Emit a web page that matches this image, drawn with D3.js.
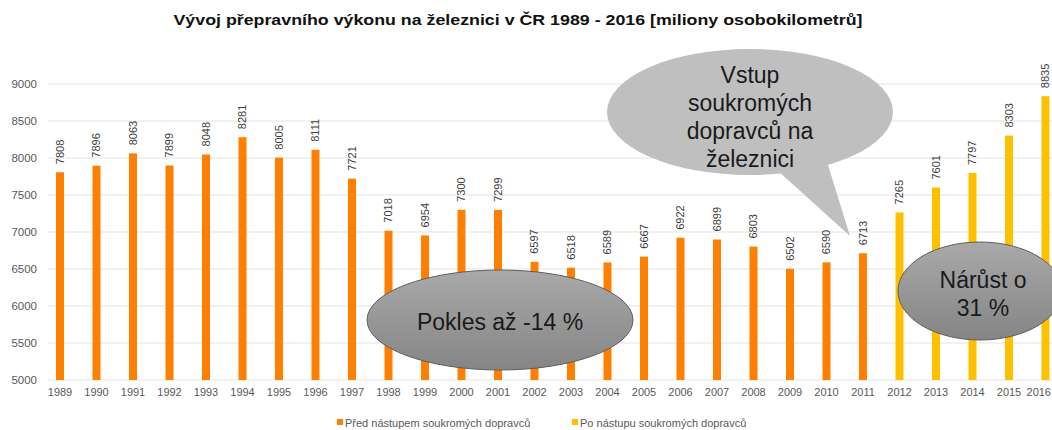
<!DOCTYPE html>
<html>
<head>
<meta charset="utf-8">
<script src="https://cdn.jsdelivr.net/npm/d3@7"></script>
<style>
  body { margin: 0; background: #fff; }
  svg { display: block; font-family: "Liberation Sans", Arial, sans-serif; }
</style>
</head>
<body>
<div id="canvas"></div>
<script>
"use strict";

// Data
let years = ["1989","1990","1991","1992","1993","1994","1995","1996","1997","1998","1999","2000","2001","2002",
  "2003","2004","2005","2006","2007","2008","2009","2010","2011","2012","2013","2014","2015","2016"];
let values = [7808,7896,8063,7899,8048,8281,8005,8111,7721,7018,6954,7300,7299,6597,
  6518,6589,6667,6922,6899,6803,6502,6590,6713,7265,7601,7797,8303,8835];
let firstAfterYear = "2012"; // from here on: after private carriers entered
let seriesNames = ["Před nástupem soukromých dopravců", "Po nástupu soukromých dopravců"];
let yTicks = [5000,5500,6000,6500,7000,7500,8000,8500,9000];

let svgWidth = 1052;
let svgHeight = 430;

let svg = d3.select("#canvas")
  .append("svg")
  .attr("width", svgWidth)
  .attr("height", svgHeight);

// Scales
let xScale = d3.scaleBand().domain(years).range([41.75, 1063.75]).padding(0);
let yScale = d3.scaleLinear().domain([5000, 9000]).range([380, 84]);
let colorOf = function(year) { return year >= firstAfterYear ? "#ffc000" : "#ff8000"; };
let barW = 8;

// Title
svg.append("text")
  .attr("x", 518)
  .attr("y", 25)
  .attr("text-anchor", "middle")
  .style("font-weight", "700")
  .style("font-size", "15px")
  .attr("fill", "#111")
  .attr("textLength", 689)
  .attr("lengthAdjust", "spacingAndGlyphs")
  .text("Vývoj přepravního výkonu na železnici v ČR 1989 - 2016 [miliony osobokilometrů]");

// Gridlines
svg.append("g").selectAll("line")
  .data(yTicks)
  .enter()
  .append("line")
  .attr("x1", 48).attr("x2", svgWidth)
  .attr("y1", function(d){ return yScale(d); })
  .attr("y2", function(d){ return yScale(d); })
  .attr("stroke", "#e3e3e3")
  .attr("stroke-width", 1.2);

// Y axis
let yAxis = svg.append("g")
  .attr("transform", "translate(42,0)")
  .call(d3.axisLeft(yScale).tickValues(yTicks).tickSize(0).tickPadding(5).tickFormat(d3.format("d")));
yAxis.select(".domain").remove();
yAxis.selectAll("text")
  .style("font-size", "11.5px")
  .style("font-family", "'Liberation Sans', Arial, sans-serif")
  .attr("fill", "#595959");

// X axis
let xAxis = svg.append("g")
  .attr("transform", "translate(0,384)")
  .call(d3.axisBottom(xScale).tickSize(0).tickPadding(4));
xAxis.select(".domain").remove();
xAxis.selectAll("text")
  .style("font-size", "11px")
  .style("font-family", "'Liberation Sans', Arial, sans-serif")
  .attr("fill", "#595959");
// last label would run past the right edge; pin it to the edge
xAxis.selectAll(".tick")
  .filter(function(d){ return d == years[years.length - 1]; })
  .select("text")
  .attr("text-anchor", "end")
  .attr("x", svgWidth - 1 - (xScale(years[years.length - 1]) + xScale.bandwidth()/2));

// Bars
svg.append("g").selectAll("rect")
  .data(years)
  .enter()
  .append("rect")
  .attr("x", function(d){ return xScale(d) + xScale.bandwidth()/2 - barW/2; })
  .attr("y", function(d, i){ return yScale(values[i]); })
  .attr("width", barW)
  .attr("height", function(d, i){ return yScale(5000) - yScale(values[i]); })
  .attr("fill", function(d){ return colorOf(d); });

// Value labels (rotated)
svg.append("g").selectAll("text")
  .data(years)
  .enter()
  .append("text")
  .attr("transform", function(d, i){
    let cx = xScale(d) + xScale.bandwidth()/2;
    let ty = yScale(values[i]) - 8;
    return "translate(" + cx + "," + ty + ") rotate(-90)";
  })
  .attr("dy", "0.35em")
  .attr("text-anchor", "start")
  .style("font-size", "11px")
  .attr("fill", "#404040")
  .text(function(d, i){ return values[i]; });

// Legend
let legend = svg.append("g");
let legendX = [337, 572];
for (let i = 0; i < seriesNames.length; i++) {
  legend.append("rect")
    .attr("x", legendX[i]).attr("y", 419)
    .attr("width", 6).attr("height", 6)
    .attr("fill", i == 0 ? "#ff8000" : "#ffc000");
  legend.append("text")
    .attr("x", legendX[i] + 8).attr("y", 426.5)
    .style("font-size", "11px")
    .attr("fill", "#595959")
    .text(seriesNames[i]);
}

// Callouts
let defs = svg.append("defs");
let grad = defs.append("linearGradient")
  .attr("id", "bubbleGrad")
  .attr("x1", 0).attr("y1", 0).attr("x2", 0).attr("y2", 1);
grad.append("stop").attr("offset", "0%").attr("stop-color", "#a9a9a9");
grad.append("stop").attr("offset", "100%").attr("stop-color", "#858585");

// speech bubble with a tail
let callout = svg.append("g");
callout.append("path")
  .attr("d", "M777,170 L850,236 L828,165 Z")
  .attr("fill", "#bfbfbf");
callout.append("ellipse")
  .attr("cx", 750).attr("cy", 112)
  .attr("rx", 143).attr("ry", 63)
  .attr("fill", "#bfbfbf");
let calloutLines = ["Vstup", "soukromých", "dopravců na", "železnici"];
callout.selectAll("text.c1")
  .data(calloutLines)
  .enter()
  .append("text")
  .attr("x", 750)
  .attr("y", function(d, i){ return 83 + i * 28; })
  .attr("text-anchor", "middle")
  .style("font-size", "23px")
  .attr("fill", "#1a1a1a")
  .text(function(d){ return d; });

svg.append("ellipse")
  .attr("cx", 500).attr("cy", 320)
  .attr("rx", 133).attr("ry", 50)
  .attr("fill", "url(#bubbleGrad)")
  .attr("stroke", "#5e5e5e")
  .attr("stroke-width", 1);
svg.append("text")
  .attr("x", 500).attr("y", 330)
  .attr("text-anchor", "middle")
  .style("font-size", "23px")
  .attr("fill", "#1a1a1a")
  .text("Pokles až -14 %");

svg.append("ellipse")
  .attr("cx", 980).attr("cy", 291)
  .attr("rx", 82).attr("ry", 49)
  .attr("fill", "url(#bubbleGrad)")
  .attr("stroke", "#5e5e5e")
  .attr("stroke-width", 1);
let growLines = ["Nárůst o", "31 %"];
svg.selectAll("text.c3")
  .data(growLines)
  .enter()
  .append("text")
  .attr("x", 983)
  .attr("y", function(d, i){ return 288 + i * 28; })
  .attr("text-anchor", "middle")
  .style("font-size", "23px")
  .attr("fill", "#1a1a1a")
  .text(function(d){ return d; });
</script>
</body>
</html>
